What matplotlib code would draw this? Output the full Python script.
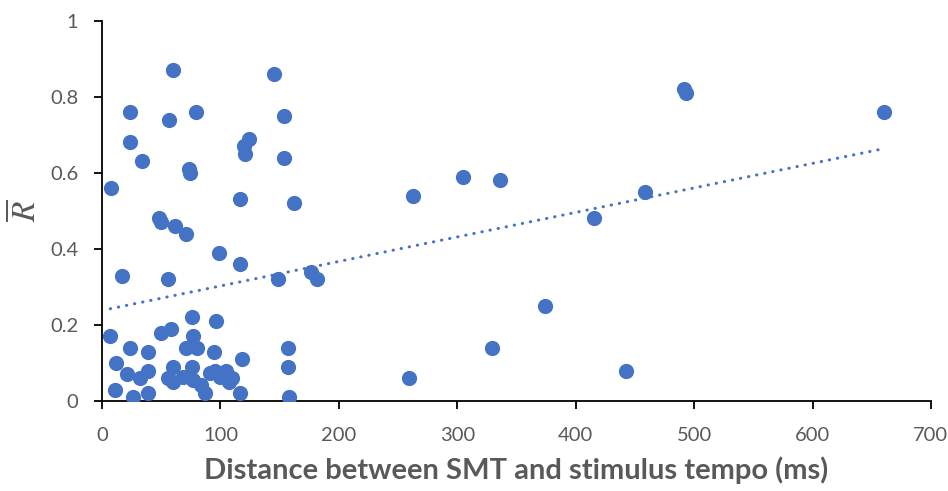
import numpy as np
import matplotlib
matplotlib.use("Agg")
import matplotlib.pyplot as plt
from matplotlib.ticker import FuncFormatter

# distance (ms) and R-bar values
dist = [7.6, 7, 11.8, 11, 16.6, 20.8, 23.6, 23.6, 23.6, 25.9, 32, 33.5, 39, 39, 39,
        48.4, 49.5, 49.5, 55.7, 56, 56.5, 58.5, 59.6, 61.6, 60.2, 60.2, 68.6,
        70.6, 70.9, 73.4, 74.5, 75.7, 75.6, 77, 77, 79.6, 80.4, 84, 87, 91,
        94.5, 95.4, 96.5, 98.4, 99.6, 104.6, 107.4, 109.4, 116.5, 116.5, 116.5,
        118.5, 119.8, 120.4, 124.3, 145.5, 148.2, 153.3, 153.3, 157, 157, 157.5,
        162.3, 176.4, 181.2, 259, 262.7, 305, 329.6, 335.9, 374.4, 415.5, 442.2,
        458.2, 491.1, 493.4, 660.5]
rbar = [0.56, 0.17, 0.10, 0.03, 0.33, 0.07, 0.76, 0.68, 0.14, 0.01, 0.06, 0.63, 0.08, 0.13, 0.02,
        0.48, 0.47, 0.18, 0.32, 0.06, 0.74, 0.19, 0.87, 0.46, 0.09, 0.05, 0.064,
        0.44, 0.14, 0.61, 0.60, 0.22, 0.09, 0.17, 0.055, 0.76, 0.14, 0.042, 0.02, 0.073,
        0.13, 0.08, 0.21, 0.39, 0.064, 0.08, 0.051, 0.06, 0.53, 0.36, 0.02,
        0.11, 0.67, 0.65, 0.69, 0.86, 0.32, 0.75, 0.64, 0.14, 0.09, 0.01,
        0.52, 0.34, 0.32, 0.06, 0.54, 0.59, 0.14, 0.58, 0.25, 0.48, 0.08,
        0.55, 0.82, 0.81, 0.76]

blue = "#4472C4"
grey = "#595959"

plt.rcParams["mathtext.fontset"] = "stix"
fig = plt.figure(figsize=(9.48, 4.91), dpi=100)
ax = fig.add_axes([0.1076, 0.1833, 0.8744, 0.7745])

ax.scatter(dist, rbar, s=120, color=blue, zorder=3, linewidths=0)

# linear trendline over the data range
k, b = np.polyfit(dist, rbar, 1)
xs = np.array([min(dist), max(dist)])
ax.plot(xs, k * xs + b, color=blue, lw=2.2, linestyle=(0, (0.1, 2.6)),
        dash_capstyle="round", zorder=2)

ax.set_xlim(0, 700)
ax.set_ylim(0, 1)
ax.set_xticks(range(0, 701, 100))
ax.set_yticks([0, 0.2, 0.4, 0.6, 0.8, 1])
ax.yaxis.set_major_formatter(FuncFormatter(lambda v, p: "%g" % v))

for s in ["top", "right"]:
    ax.spines[s].set_visible(False)
for s in ["left", "bottom"]:
    ax.spines[s].set_linewidth(1.3)
    ax.spines[s].set_color("black")

ax.tick_params(direction="out", length=6, width=1.3, colors="black",
               labelcolor=grey, labelsize=14.5)
ax.tick_params(axis="x", pad=13)
ax.tick_params(axis="y", pad=11)
for lab in ax.get_xticklabels() + ax.get_yticklabels():
    lab.set_family("Lato")

ax.set_xlabel("Distance between SMT and stimulus tempo (ms)", family="Lato",
              fontweight="bold", fontsize=21, color=grey, labelpad=9)
ax.set_ylabel(r"$\overline{R}$", fontsize=24, color=grey, labelpad=6)

fig.savefig("out.png", dpi=100)
